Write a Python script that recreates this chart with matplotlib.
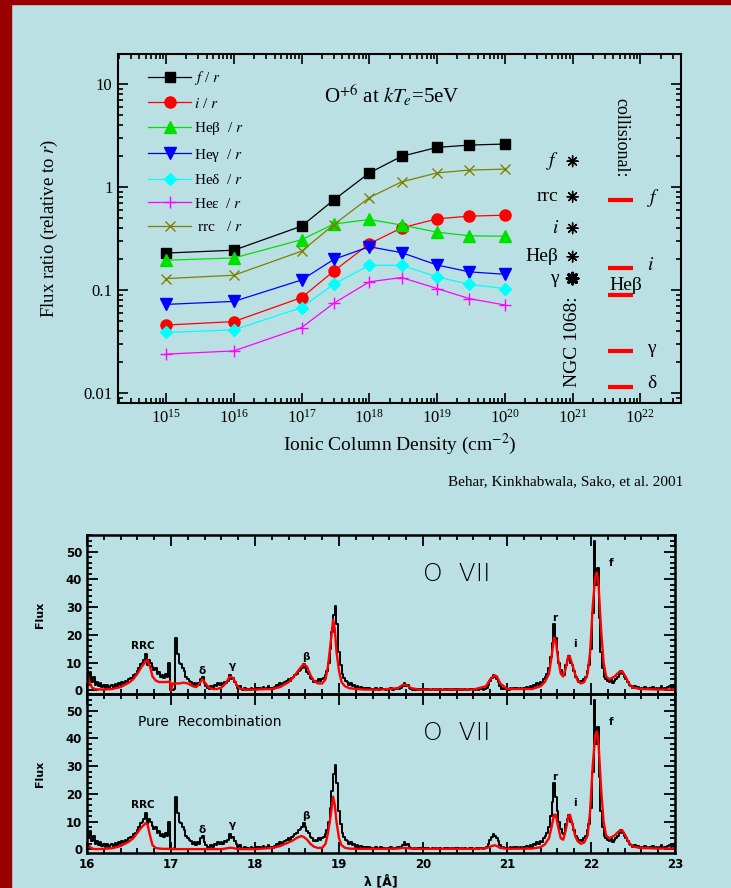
import matplotlib
matplotlib.use('Agg')
import matplotlib.pyplot as plt
import matplotlib.ticker as ticker
from matplotlib.patches import Rectangle
import numpy as np

plt.rcParams['font.family'] = ['Liberation Serif', 'DejaVu Serif']
plt.rcParams['mathtext.fontset'] = 'stix'

BG = '#bbe0e3'
BORDER = '#990000'

# ---------------- top panel: line ratios vs ionic column density ----------------
column_density = [1e15, 1e16, 1e17, 3e17, 1e18, 3e18, 1e19, 3e19, 1e20]
f_ratio = [0.23, 0.245, 0.42, 0.755, 1.38, 2.0, 2.44, 2.57, 2.63]
i_ratio = [0.046, 0.0497, 0.085, 0.154, 0.283, 0.404, 0.494, 0.525, 0.536]
hebeta_ratio = [0.196, 0.206, 0.31, 0.44, 0.487, 0.43, 0.367, 0.338, 0.335]
hegamma_ratio = [0.073, 0.078, 0.126, 0.2, 0.265, 0.232, 0.176, 0.151, 0.143]
hedelta_ratio = [0.039, 0.0413, 0.068, 0.115, 0.175, 0.175, 0.135, 0.114, 0.104]
heeps_ratio = [0.024, 0.0258, 0.0435, 0.075, 0.121, 0.133, 0.104, 0.083, 0.072]
rrc_ratio = [0.13, 0.14, 0.24, 0.435, 0.795, 1.13, 1.38, 1.47, 1.5]

# NGC 1068 measured ratios (plotted at 1e21)
ngc_labels = ['$f$', 'rrc', '$i$', 'Heβ', 'γ']
ngc_x = [1e21, 1e21, 1e21, 1e21, 1e21]
ngc_ratio = [1.79, 0.81, 0.40, 0.212, 0.13]

# collisional ratios
coll_labels = ['$f$', '$i$', 'Heβ', 'γ', 'δ']
coll_ratio = [0.748, 0.163, 0.0895, 0.0258, 0.0116]
coll_xmin = 10 ** 21.52
coll_xmax = 10 ** 21.89

# ---------------- bottom panels: O VII spectrum ----------------
obs_flux = [
    7, 5, 6.5, 3, 5, 2, 3, 1.5, 2.5, 1.2,
    2, 1, 1.8, 0.8, 1.5, 2, 1, 2.2, 1.2, 2.5,
    2, 3, 2.2, 3.5, 3, 4, 4.5, 4, 5.5, 6,
    7, 8, 9.5, 10, 11, 13, 9, 11, 10, 8.5,
    7.5, 8, 6, 6.5, 5, 5.5, 4.5, 6, 5, 10,
    0, 0, 0.5, 19, 13, 10, 9.5, 8, 7, 5,
    4, 3.5, 3, 2, 2.5, 1.5, 2.5, 2, 4, 5,
    2.5, 1.5, 1, 0.5, 1.5, 1, 2, 1.5, 2.5, 2,
    2.5, 2, 3, 2.5, 3.5, 5.5, 4, 4.5, 3, 2,
    1, 1.5, 0.5, 0.3, 0.8, 0.2, 0.5, 0.3, 0.8, 0.4,
    0.3, 0.8, 0.5, 1, 0.4, 1.2, 0.6, 0.8, 1.5, 0.7,
    1, 0.5, 1.2, 2, 1.5, 2.5, 2, 2.5, 3, 3.5,
    4, 3.5, 4.5, 5, 5.5, 6, 7, 7.5, 8, 9.5,
    8, 6.5, 6, 4.5, 4, 3, 3.5, 3, 4, 3.5,
    4, 4.5, 5.5, 7, 10, 15, 21, 27, 30.5, 24,
    14, 9, 6, 4.5, 3.5, 3, 2, 2.5, 1.5, 2,
    1, 1.5, 0.8, 1.2, 0.5, 1, 0.7, 0.4, 0.9, 0.5,
    0.6, 0.3, 0.8, 0.5, 0.3, 0.7, 0.4, 0.6, 0.2, 0.5,
    0.4, 0.8, 0.3, 0.6, 0.5, 0.9, 0.4, 1, 1.5, 2.5,
    1.5, 2, 1, 0.6, 0.3, 0.5, 0.2, 0.4, 0.3, 0.5,
    0.2, 0.4, 0.3, 0.5, 0.2, 0.3, 0.5, 0.2, 0.4, 0.3,
    0.5, 0.2, 0.3, 0.6, 0.2, 0.4, 0.3, 0.5, 0.2, 0.4,
    0.3, 0.6, 0.2, 0.4, 0.3, 0.5, 0.2, 0.3, 0.6, 0.4,
    0.2, 0.3, 0.5, 0.2, 0.4, 0.6, 0.3, 0.5, 1, 2,
    3.5, 4.5, 5.5, 5, 4, 3, 1.5, 0.5, 0.8, 0.4,
    0.6, 0.3, 0.9, 0.5, 0.7, 0.4, 1, 0.6, 0.8, 0.5,
    1, 0.7, 1.2, 0.8, 1.5, 1, 2, 1.5, 2.5, 2,
    3, 2.5, 4, 5, 6, 8, 12, 17, 24, 19,
    14, 10, 7.5, 6, 5.5, 9, 11, 12.5, 10, 9,
    7, 5, 4, 3, 3.5, 3, 4, 5, 7, 9,
    15, 28, 54, 38, 44, 26, 14, 8, 5, 4,
    3.5, 3, 4, 2.5, 3.5, 4, 5, 6, 7, 6,
    5, 4, 3, 2, 1.5, 1, 1.5, 0.8, 1.2, 0.6,
    1, 0.5, 1.2, 0.8, 0.4, 1, 0.6, 1.2, 0.5, 0.8,
    0.4, 1, 1.5, 0.6, 0.8, 0.3, 1.2, 1.5, 0.8, 1.8,
    1,
]
obs_wave = np.linspace(16.0, 23.0, len(obs_flux))

model_wave = [16.00, 16.03, 16.06, 16.10, 16.20, 16.30, 16.40, 16.50, 16.55, 16.60,
              16.65, 16.70, 16.72, 16.75, 16.78, 16.82, 16.86, 16.90, 16.95, 16.99,
              17.00, 17.02, 17.06, 17.10, 17.15, 17.20, 17.26, 17.30, 17.34, 17.37,
              17.40, 17.45, 17.50, 17.55, 17.60, 17.65, 17.70, 17.74, 17.78, 17.82,
              17.90, 18.00, 18.20, 18.30, 18.40, 18.45, 18.50, 18.55, 18.58, 18.62,
              18.66, 18.70, 18.75, 18.80, 18.84, 18.87, 18.90, 18.93, 18.95, 18.97,
              19.00, 19.03, 19.07, 19.12, 19.20, 19.30, 19.50, 19.70, 19.76, 19.80,
              19.86, 19.95, 20.60, 20.75, 20.80, 20.85, 20.88, 20.92, 21.00, 21.30,
              21.40, 21.45, 21.50, 21.53, 21.56, 21.58, 21.61, 21.64, 21.67, 21.70,
              21.73, 21.75, 21.78, 21.81, 21.84, 21.88, 21.92, 21.96, 21.99, 22.02,
              22.05, 22.07, 22.09, 22.12, 22.15, 22.18, 22.22, 22.28, 22.33, 22.37,
              22.41, 22.45, 22.50, 22.60, 22.80, 23.00]

model_fit = [6.5, 3, 1, 0.4, 0.3, 0.5, 1.2, 2.8, 4, 6,
             8.5, 10.5, 11, 8.5, 5, 3.5, 3, 3, 3, 3.2,
             0, 2.5, 2.5, 2.5, 2.8, 2.5, 1.5, 1.2, 2.5, 4,
             3, 1, 0.5, 0.5, 1, 2.5, 5, 4.5, 2, 0.6,
             0.3, 0.3, 0.5, 1.2, 3, 4.5, 6.5, 8.5, 9.5, 8.5,
             5.5, 3.5, 2.5, 2.5, 4, 9, 17, 25.5, 22, 14,
             7, 3, 1.5, 0.8, 0.5, 0.3, 0.3, 0.8, 2, 2,
             0.8, 0.3, 0.3, 1.5, 4, 5.5, 5, 2.5, 0.5, 0.5,
             1.5, 3, 6, 12, 19, 18, 11, 6, 5, 8,
             12.5, 12, 9, 6, 3.5, 2.5, 3, 6, 14, 30,
             41, 42.5, 38, 22, 10, 5, 4, 5, 6.5, 7,
             5, 2.5, 1, 0.5, 0.3, 0.3]

model_recomb = [2, 1, 0.3, 0.1, 0.2, 0.4, 1.2, 2.8, 4, 6,
                8, 9.5, 9, 5, 1.5, 0.5, 0.3, 0.2, 0.2, 0.2,
                0.1, 0.1, 0.1, 0.1, 0.1, 0.1, 0.1, 0.1, 0.1, 0.1,
                0.1, 0.1, 0.1, 0.1, 0.1, 0.3, 0.6, 0.5, 0.2, 0.1,
                0.1, 0.1, 0.5, 1.2, 2.5, 3.2, 4.2, 4.8, 4.5, 3.5,
                2, 1, 0.5, 0.6, 2, 6, 12, 19, 16, 10,
                4, 1.5, 0.6, 0.3, 0.2, 0.2, 0.2, 0.3, 0.5, 0.5,
                0.3, 0.2, 0.2, 0.4, 1, 1.5, 1.2, 0.5, 0.2, 0.3,
                0.8, 1.8, 4, 8, 12.5, 12.5, 8, 4, 3.5, 7,
                12, 12.5, 9, 5, 3, 2, 2.5, 5, 14, 30,
                41, 42.5, 38, 22, 10, 5, 4, 5, 6.5, 7,
                5, 2.5, 1, 0.5, 0.3, 0.3]

# line identifications in the spectrum: (label, wavelength, height)
line_ids = [('RRC', 16.67, 16.0), ('δ', 17.37, 6.9), ('γ', 17.73, 8.7),
            ('β', 18.60, 12.0), ('r', 21.57, 26.0), ('i', 21.81, 16.6),
            ('f', 22.24, 46.0)]

# ---------------- figure ----------------
fig = plt.figure(figsize=(7.31, 8.88), dpi=100, facecolor=BG)
fig.patches.append(Rectangle((0, 0), 11 / 731, 1, transform=fig.transFigure,
                             color=BORDER, zorder=0))
fig.patches.append(Rectangle((0, 1 - 4 / 888), 1, 4 / 888, transform=fig.transFigure,
                             color=BORDER, zorder=0))

ax = fig.add_axes([118 / 731, 1 - 403 / 888, 563 / 731, 349 / 888])
ax.set_facecolor('none')
ax.set_xscale('log')
ax.set_yscale('log')

series = [
    (f_ratio, 'black', 's', '$f$ / $r$', 7),
    (i_ratio, 'red', 'o', '$i$ / $r$', 8),
    (hebeta_ratio, '#00e000', '^', 'Heβ  / $r$', 8.5),
    (hegamma_ratio, 'blue', 'v', 'Heγ  / $r$', 8.5),
    (hedelta_ratio, 'cyan', 'D', 'Heδ  / $r$', 6.5),
    (heeps_ratio, 'magenta', '+', 'Heε  / $r$', 8),
    (rrc_ratio, '#808000', 'x', ' rrc   / $r$', 7),
]
handles = []
for vals, col, mk, lab, ms in series:
    h, = ax.plot(column_density, vals, color=col, marker=mk, markersize=ms,
                 lw=0.9, mew=1.0, label=lab)
    handles.append(h)

leg = ax.legend(handles=handles, loc='upper left', bbox_to_anchor=(0.035, 0.987),
                frameon=False, fontsize=11, handlelength=2.8, handletextpad=0.2,
                labelspacing=0.62, borderpad=0.2)

# NGC 1068 measurements
ax.scatter(ngc_x, ngc_ratio, marker=(8, 2, 0), s=60, color='black',
           linewidths=[1, 1, 1, 1, 2.2], zorder=5)
for lab, v in zip(ngc_labels, ngc_ratio):
    ax.annotate(lab, (1e21, v), xytext=(-10, 0), textcoords='offset points',
                ha='right', va='center', fontsize=14)

# collisional ratios
ax.hlines(coll_ratio, coll_xmin, coll_xmax, color='red', lw=3)
for lab, v in zip(coll_labels, coll_ratio):
    if lab == 'Heβ':
        ax.annotate(lab, (coll_xmin, v), xytext=(1, 7), textcoords='offset points',
                    ha='left', va='center', fontsize=14)
    else:
        ax.annotate(lab, (coll_xmax, v), xytext=(10, 2), textcoords='offset points',
                    ha='left', va='center', fontsize=14)

ax.text(1e21, 0.0115, 'NGC 1068:', rotation=90, ha='center', va='bottom', fontsize=14)
ax.text(10 ** 21.71, 7.4, 'collisional:', rotation=270, ha='center', va='top', fontsize=13)
ax.text(0.366, 0.86, r'O$^{+6}$ at $kT_e$=5eV', transform=ax.transAxes,
        fontsize=15, va='baseline', ha='left')

ax.set_xlim(10 ** 14.29, 10 ** 22.6)
ax.set_ylim(10 ** -2.094, 10 ** 1.294)
ax.yaxis.set_major_formatter(ticker.FuncFormatter(lambda v, p: '%g' % v))
ax.tick_params(which='both', direction='in', top=True, right=True, width=1.2)
ax.tick_params(which='major', length=7)
ax.tick_params(which='minor', length=3.5)
ax.tick_params(axis='x', labelsize=12, pad=4)
ax.tick_params(axis='y', labelsize=12, pad=4)
for s in ax.spines.values():
    s.set_linewidth(1.5)
ax.set_ylabel('Flux ratio (relative to $r$)', fontsize=13.5)
ax.yaxis.set_label_coords(-0.103, 0.5)
ax.set_xlabel('Ionic Column Density (cm$^{-2}$)', fontsize=14)
ax.xaxis.set_label_coords(0.5, -0.118)
ax.xaxis.label.set_va('center')

fig.text(683 / 731, 1 - 482 / 888, 'Behar, Kinkhabwala, Sako, et al. 2001',
         ha='right', va='center', fontsize=11)

# ---------------- spectra ----------------
ax1 = fig.add_axes([87 / 731, 1 - 694 / 888, 588 / 731, 159 / 888])
ax2 = fig.add_axes([87 / 731, 1 - 853 / 888, 588 / 731, 159 / 888])

for a, model, extra in ((ax1, model_fit, None), (ax2, model_recomb, 'Pure  Recombination')):
    a.set_facecolor('none')
    a.plot(obs_wave, obs_flux, color='black', lw=1.4, drawstyle='steps-mid')
    a.plot(model_wave, model, color='red', lw=1.7)
    a.set_xlim(16, 23)
    a.set_ylim(-1.3, 56)
    a.xaxis.set_major_locator(ticker.MultipleLocator(1))
    a.xaxis.set_minor_locator(ticker.MultipleLocator(0.2))
    a.yaxis.set_major_locator(ticker.MultipleLocator(10))
    a.yaxis.set_minor_locator(ticker.MultipleLocator(2))
    a.tick_params(which='both', direction='in', top=True, right=True, width=1.3,
                  labelsize=8.5, labelfontfamily='DejaVu Sans')
    a.tick_params(which='major', length=8)
    a.tick_params(which='minor', length=3.5)
    for s in a.spines.values():
        s.set_linewidth(1.8)
    for lbl in a.get_yticklabels() + a.get_xticklabels():
        lbl.set_fontweight('bold')
    a.set_ylabel('Flux', fontsize=8, fontweight='bold', family='DejaVu Sans')
    a.yaxis.set_label_coords(-0.071, 0.5)
    a.text(20.0, 42, 'O  VII', fontsize=18, family='DejaVu Sans', fontweight='light',
           ha='left', va='center')
    if extra:
        a.text(16.61, 45.8, extra, fontsize=10, family='DejaVu Sans', ha='left', va='center')
    for lab, wl, h in line_ids:
        a.text(wl, h, lab, fontsize=7.5, family='DejaVu Sans', fontweight='bold',
               ha='center', va='center')

ax1.tick_params(labelbottom=False)
ax2.set_xlabel('λ [Å]', fontsize=9, fontweight='bold', family='DejaVu Sans', labelpad=3)

fig.savefig('out.png', dpi=100, facecolor=BG)
